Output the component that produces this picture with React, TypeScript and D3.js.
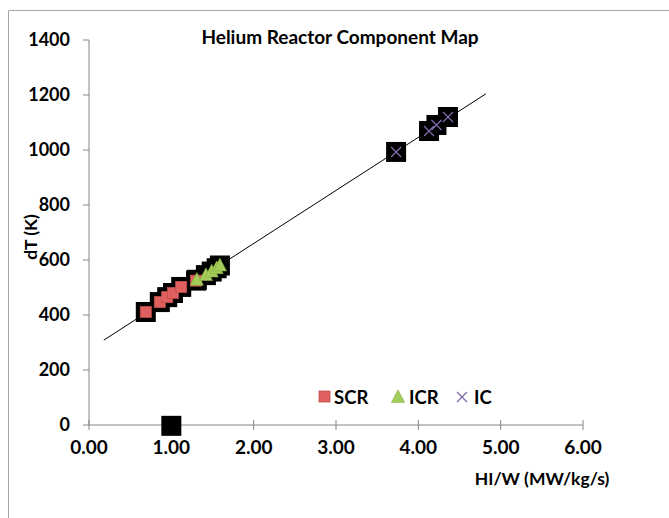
import React from "react";
import * as d3 from "d3";

const scrX = [0.69, 0.86, 0.95, 1.02, 1.12, 1.30];
const scrY = [411, 447, 465, 480, 502, 525];
const icrX = [1.31, 1.42, 1.49, 1.55, 1.59];
const icrY = [528, 545, 558, 570, 580];
const icX = [3.73, 4.13, 4.22, 4.36];
const icY = [993, 1069, 1091, 1120];
const allX = [...scrX, ...icrX, ...icX, 1.0];
const allY = [...scrY, ...icrY, ...icY, -3];
const trendX = [0.18, 4.82];
const trendSlope = 193;
const trendIntercept = 274;
const xTicks = [0, 1, 2, 3, 4, 5, 6];
const yTicks = [0, 200, 400, 600, 800, 1000, 1200, 1400];

const W = 669, H = 518;
const x = d3.scaleLinear().domain([0, 6]).range([89, 583]);
const y = d3.scaleLinear().domain([0, 1400]).range([425, 40]);
const font = "Lato, 'Open Sans', sans-serif";
const axisCol = "#868686";

export default function App() {
  const line = d3.line<number>().x((d) => x(d)).y((d) => y(trendSlope * d + trendIntercept));
  const tri = (cx: number, cy: number, s: number) =>
    `M${cx},${cy - s * 0.6} L${cx + s * 0.55},${cy + s * 0.45} L${cx - s * 0.55},${cy + s * 0.45} Z`;
  return (
    <svg width={W} height={H} style={{ position: "absolute", left: 0, top: 0, background: "#fff" }}>
      <path d={`M8.5,${H} L8.5,10.5 L${W},10.5`} fill="none" stroke="#a6a6a6" strokeWidth={1} />
      <text x={340} y={44} textAnchor="middle" fontFamily={font} fontWeight="bold" fontSize={19}>
        Helium Reactor Component Map
      </text>
      {/* axes */}
      <line x1={89} x2={89} y1={y(0)} y2={y(1400)} stroke={axisCol} />
      <line x1={x(0)} x2={x(6)} y1={y(0)} y2={y(0)} stroke={axisCol} />
      {yTicks.map((t) => (
        <g key={"y" + t}>
          <line x1={83} x2={89} y1={y(t)} y2={y(t)} stroke={axisCol} />
          <text x={70} y={y(t)} dy="0.36em" textAnchor="end" fontFamily={font} fontWeight="bold" fontSize={18}>
            {t}
          </text>
        </g>
      ))}
      {xTicks.map((t) => (
        <g key={"x" + t}>
          <line x1={x(t)} x2={x(t)} y1={y(0) - 5} y2={y(0) + 5} stroke={axisCol} />
          <text x={x(t)} y={454} textAnchor="middle" fontFamily={font} fontWeight="bold" fontSize={19}>
            {d3.format(".2f")(t)}
          </text>
        </g>
      ))}
      <text x={542} y={485} textAnchor="middle" fontFamily={font} fontWeight="bold" fontSize={17.5}>
        HI/W (MW/kg/s)
      </text>
      <text transform={`translate(37,237) rotate(-90)`} textAnchor="middle" fontFamily={font} fontWeight="bold" fontSize={17.5}>
        dT (K)
      </text>
      {/* black squares */}
      {allX.map((v, i) => (
        <rect key={"b" + i} x={x(v) - 10} y={y(allY[i]) - 10} width={20} height={20} fill="#000" />
      ))}
      {/* trendline */}
      <path d={line(trendX) || ""} stroke="#000" strokeWidth={1} fill="none" />
      {scrX.map((v, i) => (
        <rect key={"s" + i} x={x(v) - 5.5} y={y(scrY[i]) - 5.5} width={11} height={11} fill="#e06060" stroke="#c0504d" strokeWidth={0.8} />
      ))}
      {icrX.map((v, i) => (
        <path key={"t" + i} d={tri(x(v), y(icrY[i]), 12)} fill="#a4cc5a" stroke="#8bb042" strokeWidth={0.6} />
      ))}
      {icX.map((v, i) => {
        const cx = x(v), cy = y(icY[i]);
        return (
          <path key={"c" + i} d={`M${cx - 5},${cy - 5} L${cx + 5},${cy + 5} M${cx - 5},${cy + 5} L${cx + 5},${cy - 5}`} stroke="#7e6aa8" strokeWidth={1.3} />
        );
      })}
      {/* legend */}
      <rect x={319} y={391} width={11} height={11} fill="#e06060" stroke="#c0504d" strokeWidth={0.8} />
      <text x={334} y={397} dy="0.36em" fontFamily={font} fontWeight="bold" fontSize={18.5}>SCR</text>
      <path d={tri(398, 397, 12)} fill="#a4cc5a" stroke="#8bb042" strokeWidth={0.6} />
      <text x={409} y={397} dy="0.36em" fontFamily={font} fontWeight="bold" fontSize={18.5}>ICR</text>
      <path d="M457,392 L467,402 M457,402 L467,392" stroke="#7e6aa8" strokeWidth={1.3} />
      <text x={474} y={397} dy="0.36em" fontFamily={font} fontWeight="bold" fontSize={18.5}>IC</text>
    </svg>
  );
}
